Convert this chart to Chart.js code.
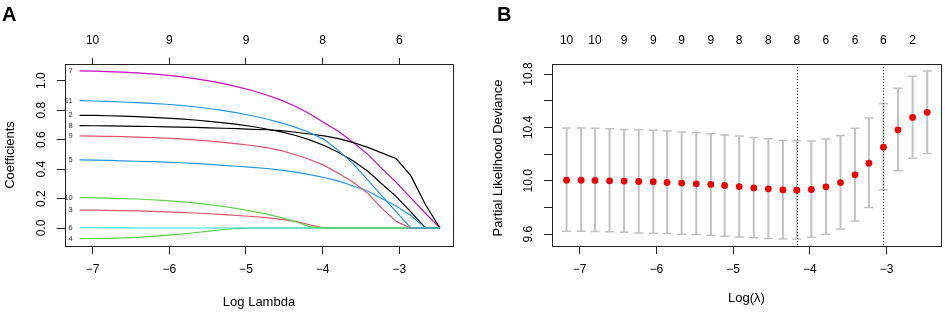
<!DOCTYPE html>
<html>
<head>
<meta charset="utf-8">
<script src="https://cdn.jsdelivr.net/npm/chart.js@4.4.0/dist/chart.umd.min.js"></script>
<style>
  html, body { margin: 0; padding: 0; background: #fff; }
  #wrapA { position: absolute; left: 0; top: 0; width: 470px; height: 312px; }
  #wrapB { position: absolute; left: 470px; top: 0; width: 475px; height: 312px; }
</style>
</head>
<body>
<div id="wrapA"><canvas id="lassoPath"></canvas></div>
<div id="wrapB"><canvas id="cvDeviance"></canvas></div>
<script>
// log(lambda) sequence shared by both panels
const logLambda = [-7.17, -6.98, -6.80, -6.61, -6.42, -6.23, -6.04, -5.86, -5.67, -5.48, -5.29, -5.11, -4.92,
                   -4.73, -4.54, -4.35, -4.17, -3.98, -3.79, -3.60, -3.41, -3.23, -3.04, -2.85, -2.66, -2.47];

// coefficient paths (panel A), one array per variable
const coefV2  = [0.765, 0.764, 0.762, 0.759, 0.756, 0.751, 0.746, 0.740, 0.733, 0.724, 0.714, 0.703, 0.689, 0.672, 0.652, 0.628, 0.598, 0.560, 0.512, 0.455, 0.385, 0.300, 0.213, 0.110, 0, 0];
const coefV3  = [0.122, 0.121, 0.120, 0.118, 0.116, 0.113, 0.110, 0.106, 0.102, 0.097, 0.091, 0.085, 0.078, 0.070, 0.059, 0.045, 0.022, 0, 0, 0, 0, 0, 0, 0, 0, 0];
const coefV4  = [-0.072, -0.071, -0.070, -0.067, -0.063, -0.057, -0.050, -0.042, -0.032, -0.021, -0.010, -0.002, 0, 0, 0, 0, 0, 0, 0, 0, 0, 0, 0, 0, 0, 0];
const coefV5  = [0.462, 0.461, 0.459, 0.456, 0.453, 0.450, 0.447, 0.443, 0.438, 0.432, 0.425, 0.419, 0.412, 0.404, 0.393, 0.379, 0.362, 0.343, 0.318, 0.285, 0.250, 0.200, 0.150, 0.085, 0, 0];
const coefV6  = [0.002, 0.002, 0.001, 0.001, 0, 0, 0, 0, 0, 0, 0, 0, 0, 0, 0, 0, 0, 0, 0, 0, 0, 0, 0, 0, 0, 0];
const coefV7  = [1.066, 1.064, 1.061, 1.058, 1.053, 1.046, 1.037, 1.027, 1.014, 0.999, 0.980, 0.958, 0.933, 0.903, 0.868, 0.825, 0.775, 0.715, 0.655, 0.580, 0.500, 0.405, 0.310, 0.205, 0.100, 0];
const coefV8  = [0.695, 0.694, 0.693, 0.692, 0.690, 0.689, 0.687, 0.685, 0.683, 0.680, 0.677, 0.674, 0.670, 0.667, 0.661, 0.650, 0.638, 0.625, 0.607, 0.580, 0.547, 0.510, 0.470, 0.355, 0.160, 0];
const coefV9  = [0.625, 0.624, 0.622, 0.620, 0.617, 0.614, 0.610, 0.605, 0.598, 0.590, 0.581, 0.571, 0.560, 0.545, 0.525, 0.497, 0.465, 0.425, 0.370, 0.310, 0.235, 0.135, 0.045, 0, 0, 0];
const coefV10 = [0.206, 0.205, 0.203, 0.200, 0.197, 0.192, 0.186, 0.179, 0.170, 0.159, 0.146, 0.131, 0.114, 0.094, 0.070, 0.043, 0.010, 0, 0, 0, 0, 0, 0, 0, 0, 0];
const coefV11 = [0.864, 0.862, 0.859, 0.855, 0.851, 0.846, 0.840, 0.832, 0.823, 0.811, 0.797, 0.781, 0.762, 0.740, 0.714, 0.683, 0.648, 0.600, 0.525, 0.435, 0.325, 0.220, 0.110, 0, 0, 0];
const varNames = ['2', '3', '4', '5', '6', '7', '8', '9', '10', '11'];
const coefPaths = [coefV2, coefV3, coefV4, coefV5, coefV6, coefV7, coefV8, coefV9, coefV10, coefV11];

// cross-validation (panel B)
const cvMean  = [10.005, 10.005, 10.003, 10.000, 9.998, 9.995, 9.993, 9.988, 9.983, 9.978, 9.973, 9.965, 9.957, 9.947, 9.940, 9.932, 9.930, 9.935, 9.955, 9.987, 10.045, 10.132, 10.252, 10.382, 10.475, 10.513];
const cvUpper = [10.395, 10.395, 10.393, 10.390, 10.385, 10.383, 10.378, 10.373, 10.365, 10.360, 10.353, 10.343, 10.335, 10.325, 10.315, 10.303, 10.300, 10.298, 10.313, 10.340, 10.393, 10.470, 10.580, 10.693, 10.783, 10.822];
const cvLower = [9.623, 9.623, 9.620, 9.618, 9.615, 9.610, 9.608, 9.605, 9.600, 9.598, 9.593, 9.585, 9.580, 9.573, 9.568, 9.565, 9.565, 9.578, 9.600, 9.640, 9.700, 9.800, 9.932, 10.075, 10.170, 10.205];
const lambdaMin = -4.17;
const lambda1se = -3.04;

// tick labels
const xTicks = [-7, -6, -5, -4, -3];
const dfTopA = ['10', '9', '9', '8', '6'];
const dfTopB = ['10', '10', '9', '9', '9', '9', '8', '8', '8', '6', '6', '6', '2'];
const yTicksA = [0, 0.2, 0.4, 0.6, 0.8, 1.0];
const yLabelsA = ['0.0', '0.2', '0.4', '0.6', '0.8', '1.0'];
const yTicksB = [9.6, 9.8, 10.0, 10.2, 10.4, 10.6, 10.8];
const yLabelsB = ['9.6', '', '10.0', '', '10.4', '', '10.8'];

const palette = ['#000000', '#DF536B', '#61D04F', '#2297E6', '#28E2E5', '#CD0BBC'];
const FONT = "'Liberation Sans', Arial, sans-serif";

const setTicks = vals => scale => { scale.ticks = vals.map(v => ({ value: v })); };
const minus = v => String(v).replace('-', '\u2212');

// box, rotated y labels, titles, panel letter
const rFrame = {
    id: 'rFrame',
    afterDraw(chart, args, o) {
        const { ctx, chartArea: a } = chart;
        const ys = chart.scales.y;
        ctx.save();
        ctx.strokeStyle = '#222';
        ctx.lineWidth = 1;
        ctx.strokeRect(Math.round(a.left) + 0.5, Math.round(a.top) + 0.5,
                       Math.round(a.right - a.left), Math.round(a.bottom - a.top));
        ctx.fillStyle = '#000';
        ctx.textAlign = 'center';
        ctx.textBaseline = 'middle';
        ctx.font = '12px ' + FONT;
        o.yTicks.forEach((v, i) => {
            if (!o.yLabels[i]) return;
            ctx.save();
            ctx.translate(a.left - 23.5, ys.getPixelForValue(v));
            ctx.rotate(-Math.PI / 2);
            ctx.fillText(o.yLabels[i], 0, 0);
            ctx.restore();
        });
        ctx.font = o.titleSize + 'px ' + FONT;
        ctx.fillText(o.xTitle, (a.left + a.right) / 2, o.xTitleY);
        ctx.save();
        ctx.translate(o.yTitleX, o.yTitleY);
        ctx.rotate(-Math.PI / 2);
        ctx.fillText(o.yTitle, 0, 0);
        ctx.restore();
        ctx.font = 'bold 20px ' + FONT;
        ctx.textAlign = 'left';
        ctx.textBaseline = 'alphabetic';
        ctx.fillText(o.letter, o.letterX, 21);
        ctx.restore();
    }
};

// small variable numbers at the left end of each path
const pathLabels = {
    id: 'pathLabels',
    afterDatasetsDraw(chart) {
        const { ctx } = chart;
        const xs = chart.scales.x, ys = chart.scales.y;
        ctx.save();
        ctx.font = '7.5px ' + FONT;
        ctx.fillStyle = '#333';
        ctx.textAlign = 'right';
        ctx.textBaseline = 'middle';
        coefPaths.forEach((path, i) => {
            ctx.fillText(varNames[i], xs.getPixelForValue(logLambda[0]) - 7, ys.getPixelForValue(path[0]));
        });
        ctx.restore();
    }
};

// error bars and the two dotted lambda lines
const cvBars = {
    id: 'cvBars',
    beforeDatasetsDraw(chart) {
        const { ctx, chartArea: a } = chart;
        const xs = chart.scales.x, ys = chart.scales.y;
        ctx.save();
        ctx.strokeStyle = '#c2c2c2';
        logLambda.forEach((lx, i) => {
            const x = xs.getPixelForValue(lx);
            const yu = ys.getPixelForValue(cvUpper[i]);
            const yl = ys.getPixelForValue(cvLower[i]);
            ctx.lineWidth = 2;
            ctx.beginPath();
            ctx.moveTo(x, yu);
            ctx.lineTo(x, yl);
            ctx.stroke();
            ctx.lineWidth = 1.5;
            ctx.beginPath();
            ctx.moveTo(x - 4.5, yu);
            ctx.lineTo(x + 4.5, yu);
            ctx.moveTo(x - 4.5, yl);
            ctx.lineTo(x + 4.5, yl);
            ctx.stroke();
        });
        ctx.strokeStyle = '#333';
        ctx.lineWidth = 1;
        ctx.setLineDash([1, 2]);
        [lambdaMin, lambda1se].forEach(v => {
            const x = Math.round(xs.getPixelForValue(v)) + 0.5;
            ctx.beginPath();
            ctx.moveTo(x, a.top);
            ctx.lineTo(x, a.bottom);
            ctx.stroke();
        });
        ctx.restore();
    }
};

const tickFont = { family: FONT, size: 12 };

const lassoPath = new Chart('lassoPath', {
    type: 'scatter',
    data: {
        datasets: coefPaths.map((path, i) => ({
            label: varNames[i],
            data: logLambda.map((x, j) => ({ x: x, y: path[j] })),
            showLine: true,
            borderColor: palette[i % 6],
            borderWidth: 1.2,
            pointRadius: 0,
            order: 20 - i
        }))
    },
    options: {
        responsive: true,
        maintainAspectRatio: false,
        animation: false,
        events: [],
        layout: { padding: { left: 0, right: 17, top: 0, bottom: 0 } },
        plugins: {
            legend: { display: false },
            tooltip: { enabled: false },
            rFrame: {
                yTicks: yTicksA, yLabels: yLabelsA,
                xTitle: 'Log Lambda', xTitleY: 302, titleSize: 13,
                yTitle: 'Coefficients', yTitleX: 10, yTitleY: 155,
                letter: 'A', letterX: 2
            }
        },
        scales: {
            x: {
                type: 'linear', position: 'bottom', min: -7.36, max: -2.30,
                afterBuildTicks: setTicks(xTicks),
                afterFit: s => { s.height = 66; },
                border: { display: false },
                grid: { drawOnChartArea: false, tickLength: 8, tickColor: '#222' },
                ticks: { font: tickFont, color: '#000', padding: 8, maxRotation: 0, callback: minus }
            },
            x2: {
                type: 'linear', position: 'top', min: -7.36, max: -2.30,
                afterBuildTicks: setTicks(xTicks),
                afterFit: s => { s.height = 64; },
                border: { display: false },
                grid: { drawOnChartArea: false, tickLength: 6, tickColor: '#222' },
                ticks: { font: tickFont, color: '#000', padding: 10, maxRotation: 0, autoSkip: false,
                         callback: (v, i) => dfTopA[i] }
            },
            y: {
                type: 'linear', min: -0.122, max: 1.113,
                afterBuildTicks: setTicks(yTicksA),
                afterFit: s => { s.width = 65; },
                border: { display: false },
                grid: { drawOnChartArea: false, tickLength: 8, tickColor: '#222' },
                ticks: { display: false }
            }
        }
    },
    plugins: [rFrame, pathLabels]
});

const cvDeviance = new Chart('cvDeviance', {
    type: 'scatter',
    data: {
        datasets: [{
            label: 'Partial Likelihood Deviance',
            data: logLambda.map((x, i) => ({ x: x, y: cvMean[i] })),
            backgroundColor: '#ee0000',
            borderColor: '#ee0000',
            borderWidth: 0,
            pointRadius: 3.4
        }]
    },
    options: {
        responsive: true,
        maintainAspectRatio: false,
        animation: false,
        events: [],
        layout: { padding: { left: 0, right: 4, top: 0, bottom: 0 } },
        plugins: {
            legend: { display: false },
            tooltip: { enabled: false },
            rFrame: {
                yTicks: yTicksB, yLabels: yLabelsB,
                xTitle: 'Log(\u03bb)', xTitleY: 298, titleSize: 13,
                yTitle: 'Partial Likelihood Deviance', yTitleX: 28, yTitleY: 158,
                letter: 'B', letterX: 27
            }
        },
        scales: {
            x: {
                type: 'linear', position: 'bottom', min: -7.36, max: -2.29,
                afterBuildTicks: setTicks(xTicks),
                afterFit: s => { s.height = 66; },
                border: { display: false },
                grid: { drawOnChartArea: false, tickLength: 8, tickColor: '#222' },
                ticks: { font: tickFont, color: '#000', padding: 8, maxRotation: 0, callback: minus }
            },
            x2: {
                type: 'linear', position: 'top', min: -7.36, max: -2.29,
                afterBuildTicks: setTicks(logLambda.filter((v, i) => i % 2 === 0)),
                afterFit: s => { s.height = 64; },
                border: { display: false },
                grid: { drawOnChartArea: false, tickLength: 6, tickColor: 'rgba(0,0,0,0)' },
                ticks: { font: tickFont, color: '#000', padding: 10, maxRotation: 0, autoSkip: false,
                         callback: (v, i) => dfTopB[i] }
            },
            y: {
                type: 'linear', min: 9.512, max: 10.875,
                afterBuildTicks: setTicks(yTicksB),
                afterFit: s => { s.width = 82; },
                border: { display: false },
                grid: { drawOnChartArea: false, tickLength: 8, tickColor: '#222' },
                ticks: { display: false }
            }
        }
    },
    plugins: [cvBars, rFrame]
});
</script>
</body>
</html>
